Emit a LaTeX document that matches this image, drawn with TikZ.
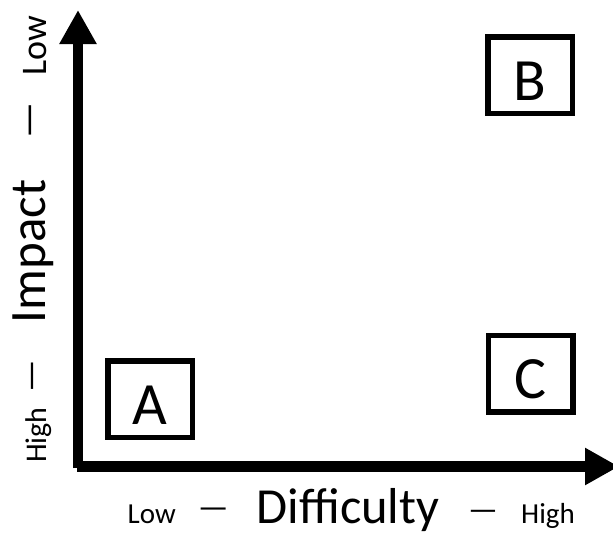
\documentclass[tikz,border=0pt]{standalone}
\usepackage{fontspec}
\setmainfont{Carlito}
\usetikzlibrary{arrows.meta}

\tikzset{
  axis/.style={line width=10.6pt, -{Triangle[length=34pt,width=35pt]}},
  cell/.style={draw, line width=5.5pt, minimum width=84.5pt, minimum height=76.5pt,
               inner sep=0pt, text height=50pt, text depth=0pt,
               font=\fontsize{60}{62}\selectfont},
  small/.style={font=\fontsize{29}{31}\selectfont, inner sep=0pt},
  big/.style={font=\fontsize{50.5}{52}\selectfont, inner sep=0pt},
  sep/.style={inner sep=0pt},
  vert/.style={rotate=90, anchor=base},
}

\begin{document}
\begin{tikzpicture}[x=1pt, y=-1pt]
  \useasboundingbox (0,0) rectangle (613,536);

  % axes
  \coordinate (ybase) at (78,468);
  \coordinate (ytip)  at (78,10);
  \coordinate (xbase) at (77,466.5);
  \coordinate (xtip)  at (619,466.5);
  \draw[axis] (ybase) -- (ytip);
  \draw[axis] (xbase) -- (xtip);

  % quadrant markers
  \node[cell] (A) at (150.3,399.2) {A};
  \node[cell] (B) at (530,75.3) {B};
  \node[cell] (C) at (530.5,373.8) {C};

  % horizontal axis caption
  \node[small, anchor=base] (xlow) at (151.7,523.5) {Low};
  \node[sep, font=\fontsize{34}{36}\selectfont] (xdash1) at (213.3,513) {—};
  \node[big, anchor=base] (xname) at (348,523.5) {Difficulty};
  \node[sep, font=\fontsize{33}{35}\selectfont] (xdash2) at (483,515) {—};
  \node[small, anchor=base] (xhigh) at (548,523.5) {High};

  % vertical axis caption
  \node[vert, font=\fontsize{36}{38}\selectfont, inner sep=0pt] (ylow) at (46,45.5) {Low};
  \node[sep, rotate=90, font=\fontsize{40}{42}\selectfont] (ydash1) at (35,120) {—};
  \node[vert, font=\fontsize{51}{53}\selectfont, inner sep=0pt] (yname) at (45,251.5) {Impact};
  \node[sep, rotate=90, font=\fontsize{36}{38}\selectfont] (ydash2) at (37,376.5) {—};
  \node[vert, font=\fontsize{30}{32}\selectfont, inner sep=0pt] (yhigh) at (46.7,435) {High};
\end{tikzpicture}
\end{document}
